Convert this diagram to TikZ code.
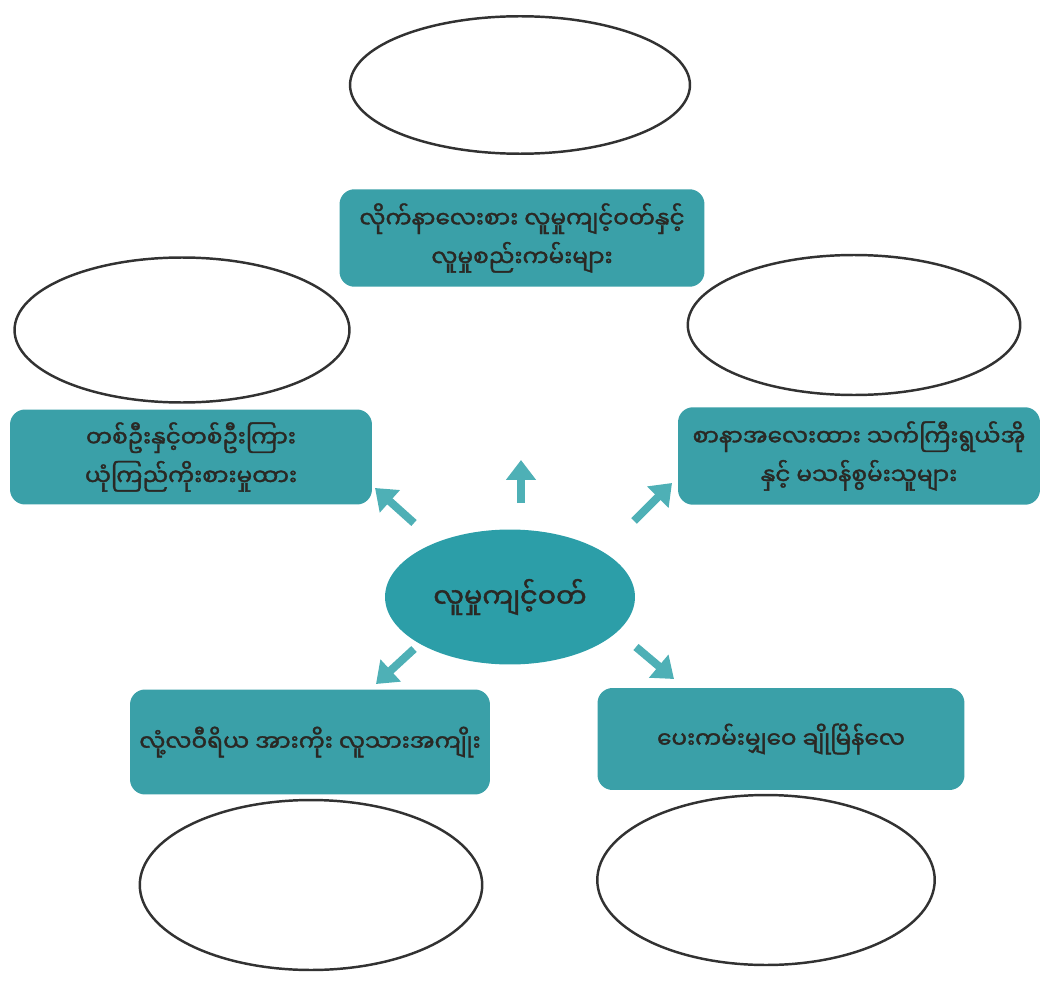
\documentclass[tikz,border=0pt]{standalone}
\usepackage{fontspec}
\newfontfamily\mmfont[Script=Myanmar,FakeBold=1.6]{Noto Sans Myanmar UI}
\usetikzlibrary{arrows.meta,shapes.geometric}
\definecolor{tealbox}{RGB}{58,160,168}
\definecolor{tealhub}{RGB}{44,158,168}
\definecolor{tealarrow}{RGB}{78,176,182}
\definecolor{inkdark}{RGB}{42,40,36}
\definecolor{rimgray}{RGB}{50,50,50}
\tikzset{
  topic/.style={fill=tealbox, rounded corners=0.3cm, minimum width=7.3cm,
    minimum height=1.95cm, inner xsep=1pt, align=center, text=inkdark,
    font=\mmfont\fontsize{13.2}{22}\selectfont},
  hubnode/.style={ellipse, fill=tealhub, minimum width=5cm, minimum height=2.7cm,
    text=inkdark, font=\mmfont\fontsize{15.5}{22}\selectfont},
  blank/.style={ellipse, draw=rimgray, line width=1.4pt, fill=white,
    minimum width=6.8cm, minimum height=2.75cm},
  pointer/.style={draw=tealarrow, line width=0.16cm,
    -{Triangle[length=0.4cm,width=0.58cm]}}
}

\begin{document}
\begin{tikzpicture}[x=0.02cm, y=-0.02cm]
		%%%%% START %%%%%
		\useasboundingbox (0, 0) rectangle (1051, 983);
		
		% empty answer ovals
		\node[blank] (ovalT) at (520, 85) {};
		\node[blank, minimum width=6.7cm, minimum height=2.9cm] (ovalL) at (182, 330) {};
		\node[blank, minimum width=6.65cm, minimum height=2.8cm] (ovalR) at (854, 325) {};
		\node[blank, minimum width=6.85cm, minimum height=3.4cm] (ovalBL) at (311, 885) {};
		\node[blank, minimum width=6.75cm, minimum height=3.4cm] (ovalBR) at (766, 880) {};
		
		% topic boxes
		\node[topic] (boxT) at (522, 238) {လိုက်နာလေးစား လူမှုကျင့်ဝတ်နှင့်\\လူမှုစည်းကမ်းများ};
		\node[topic, minimum width=7.24cm, minimum height=1.9cm] (boxL) at (191, 457) {တစ်ဦးနှင့်တစ်ဦးကြား\\ယုံကြည်ကိုးစားမှုထား};
		\node[topic, minimum width=7.24cm] (boxR) at (859, 456) {စာနာအလေးထား သက်ကြီးရွယ်အို\\နှင့် မသန်စွမ်းသူများ};
		\node[topic, minimum width=7.2cm, minimum height=2.1cm] (boxBL) at (310, 742) {လုံ့လဝီရိယ အားကိုး လူသားအကျိုး};
		\node[topic, minimum width=7.34cm, minimum height=2.04cm] (boxBR) at (781, 739) {ပေးကမ်းမျှဝေ ချိုမြိန်လေ};
		
		% centre
		\node[hubnode] (hub) at (510, 597) {လူမှုကျင့်ဝတ်};
		
		% arrows
		\coordinate (tailT) at (521, 503);   \coordinate (tipT) at (521, 460);
		\coordinate (tailL) at (414, 523);   \coordinate (tipL) at (375, 488);
		\coordinate (tailR) at (634, 521);   \coordinate (tipR) at (672, 483);
		\coordinate (tailBL) at (414, 649);  \coordinate (tipBL) at (376, 684);
		\coordinate (tailBR) at (636, 647);  \coordinate (tipBR) at (674, 679);
		\foreach \k in {T, L, R, BL, BR}
			\draw[pointer] (tail\k) -- (tip\k);
		
		%%%%% END %%%%%
	\end{tikzpicture}
\end{document}
